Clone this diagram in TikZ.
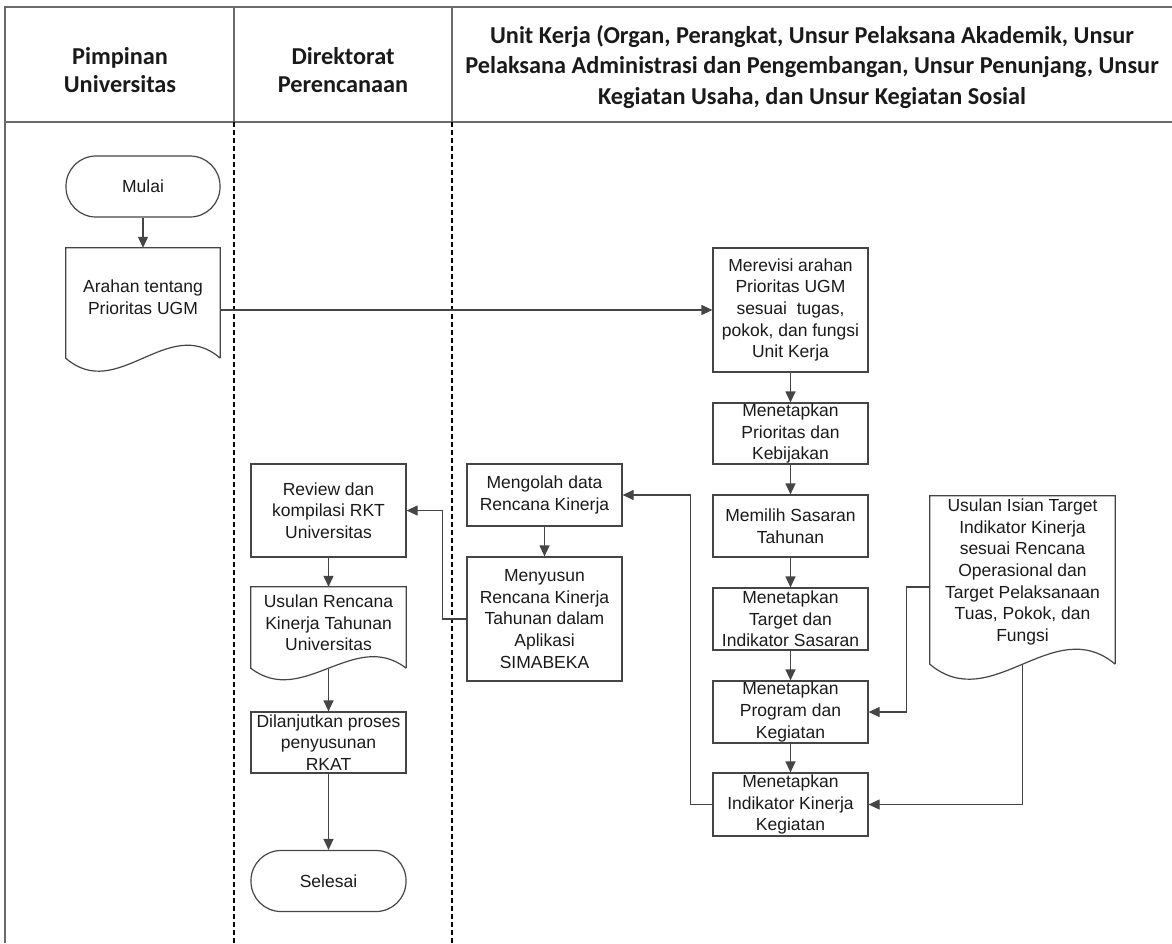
\documentclass[tikz,border=0pt]{standalone}
\usepackage{fontspec}
\setmainfont{Liberation Sans}
\newfontfamily\headfont{Carlito}
\usetikzlibrary{arrows.meta,calc}
\definecolor{edge}{HTML}{454545}
\definecolor{ink}{HTML}{1A1A1A}
\tikzset{
  frameline/.style={draw=edge!80, line width=1.6pt},
  laneline/.style={draw=black, line width=2.2pt, dash pattern=on 5pt off 3pt},
  headtext/.style={font=\headfont\bfseries\fontsize{24.3}{28.5}\selectfont, align=center, text=ink},
  headwide/.style={headtext, font=\headfont\bfseries\fontsize{24.3}{30.5}\selectfont},
  bodyfont/.style={font=\fontsize{17.5}{21.6}\selectfont, text=ink, align=center},
  stepbox/.style={bodyfont, draw=edge, line width=1.2pt, minimum width=155pt, inner sep=0pt},
  termbox/.style={stepbox, rounded corners=30pt, minimum height=61pt},
  docframe/.style={draw=none, inner sep=0pt},
  doctext/.style={bodyfont, inner sep=0pt},
  flow/.style={draw=edge, line width=1.2pt, -{Triangle[length=11pt,width=10pt]}}
}
% outline of a document symbol around node #1 with wave strength #2
\newcommand\drawdocument[2]{%
  \draw[draw=edge, line width=1.2pt] (#1.south east) -- (#1.north east) -- (#1.north west) -- (#1.south west)
    .. controls ($(#1.south west)!0.3333!(#1.south east)+(0,#2)$) and ($(#1.south west)!0.6667!(#1.south east)+(0,-#2)$) .. (#1.south east);%
}
\begin{document}
\begin{tikzpicture}[x=1pt,y=-1pt]
\useasboundingbox (0,0) rectangle (1172,943);

% swimlane frame
\draw[frameline] (5,943) -- (5,7) -- (1172,7);
\draw[frameline] (5,122) -- (1172,122);
\draw[frameline] (234,7) -- (234,122);
\draw[frameline] (452,7) -- (452,122);
\draw[laneline] (234,122) -- (234,943);
\draw[laneline] (452,122) -- (452,943);

% lane headings
\node[headtext] (h1) at (120,70) {Pimpinan\\Universitas};
\node[headtext] (h2) at (343,70) {Direktorat\\Perencanaan};
\node[headwide] (h3) at (812,67) {Unit Kerja (Organ, Perangkat, Unsur Pelaksana Akademik, Unsur\\Pelaksana Administrasi dan Pengembangan, Unsur Penunjang, Unsur\\Kegiatan Usaha, dan Unsur Kegiatan Sosial};

% Pimpinan Universitas
\node[termbox, minimum width=154pt] (mulai) at (143,186.5) {Mulai};
\node[docframe, minimum width=154pt, minimum height=110pt] (arahan) at (143,303) {};
\drawdocument{arahan}{45}
\node[doctext] (arahantxt) at (143,297) {Arahan tentang\\Prioritas UGM};

% Direktorat Perencanaan
\node[stepbox, minimum height=93pt] (review) at (328.5,510.5) {Review dan\\kompilasi RKT\\Universitas};
\node[docframe, minimum width=155pt, minimum height=81pt] (usulan) at (328.5,627.5) {};
\drawdocument{usulan}{40}
\node[doctext] (usulantxt) at (328.5,623) {Usulan Rencana\\Kinerja Tahunan\\Universitas};
\node[stepbox, minimum height=61pt] (lanjut) at (328.5,742.5) {Dilanjutkan proses\\penyusunan\\RKAT};
\node[termbox] (selesai) at (328.5,881) {Selesai};

% Unit Kerja
\node[stepbox, minimum height=62pt] (olah) at (544.5,495) {Mengolah data\\Rencana Kinerja};
\node[stepbox, minimum height=124pt] (susun) at (544.5,619) {Menyusun\\Rencana Kinerja\\Tahunan dalam\\Aplikasi\\SIMABEKA};

\node[stepbox, minimum height=124pt] (revisi) at (790.5,310) {Merevisi arahan\\Prioritas UGM\\sesuai\ \ tugas,\\pokok, dan fungsi\\Unit Kerja};
\node[stepbox, minimum height=61pt] (prioritas) at (790.5,433.5) {Menetapkan\\Prioritas dan\\Kebijakan};
\node[stepbox, minimum height=62pt] (sasaran) at (790.5,526) {Memilih Sasaran\\Tahunan};
\node[stepbox, minimum height=62pt] (target) at (790.5,619) {Menetapkan\\Target dan\\Indikator Sasaran};
\node[stepbox, minimum height=62pt] (program) at (790.5,712) {Menetapkan\\Program dan\\Kegiatan};
\node[stepbox, minimum height=63pt] (indikator) at (790.5,804.5) {Menetapkan\\Indikator Kinerja\\Kegiatan};

\node[docframe, minimum width=185pt, minimum height=168pt] (isian) at (1022.5,580) {};
\drawdocument{isian}{52}
\node[doctext] (isiantxt) at (1022.5,572) {Usulan Isian Target\\Indikator Kinerja\\sesuai Rencana\\Operasional dan\\Target Pelaksanaan\\Tuas, Pokok, dan\\Fungsi};

% connectors
\draw[flow] (mulai.south) -- (arahan.north);
\draw[flow] (arahan.east |- revisi.west) -- (revisi.west);
\draw[flow] (revisi.south) -- (prioritas.north);
\draw[flow] (prioritas.south) -- (sasaran.north);
\draw[flow] (sasaran.south) -- (target.north);
\draw[flow] (target.south) -- (program.north);
\draw[flow] (program.south) -- (indikator.north);
\draw[flow] (indikator.west) -- ++(-22,0) |- (olah.east);
\draw[flow] (olah.south) -- (susun.north);
\draw[flow] (susun.west) -- ++(-24,0) |- (review.east);
\draw[flow] (review.south) -- (usulan.north);
\draw[flow] (usulan.south) -- (lanjut.north);
\draw[flow] (lanjut.south) -- (selesai.north);
\draw[flow] ([yshift=-7pt]isian.west) -- ++(-23,0) |- (program.east);
\draw[flow] (isian.south) |- (indikator.east);
\end{tikzpicture}
\end{document}
